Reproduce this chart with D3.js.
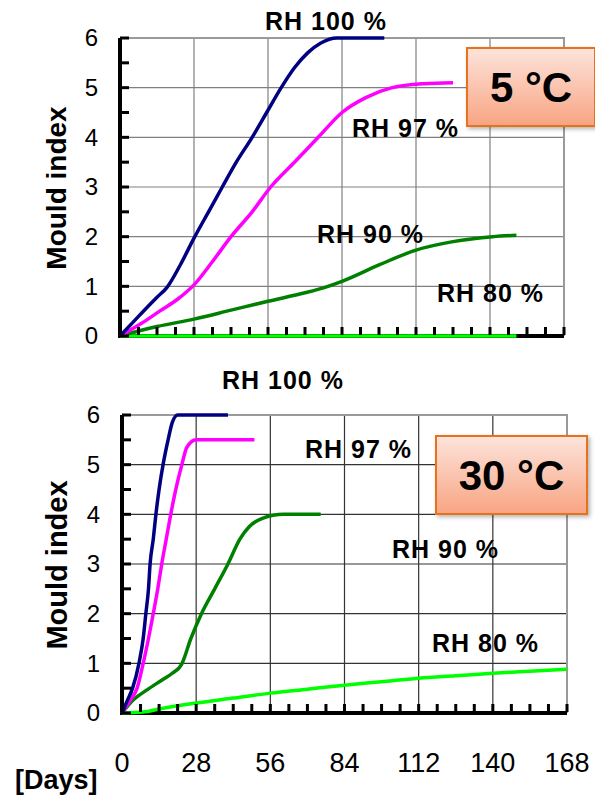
<!DOCTYPE html>
<html>
<head>
<meta charset="utf-8">
<script src="https://cdn.jsdelivr.net/npm/d3@7"></script>
<style>
  body { margin: 0; background: #fff; }
  svg { display: block; font-family: "Liberation Sans", Arial, sans-serif; }
</style>
</head>
<body>
<svg id="chart" width="595" height="799"></svg>
<script>
// x ticks in days, y ticks in mould index
const dayTicks = [0, 28, 56, 84, 112, 140, 168];
const indexTicks = [0, 1, 2, 3, 4, 5, 6];
const dayMinorTicks = [0, 7, 14, 21, 28, 35, 42, 49, 56, 63, 70, 77, 84, 91, 98, 105, 112, 119, 126, 133, 140, 147, 154, 161, 168];
const indexMinorTicks = [0, 0.5, 1, 1.5, 2, 2.5, 3, 3.5, 4, 4.5, 5, 5.5, 6];

// 5 °C curves, [day, mould index]
const rh100_5C = [[0,0],[5.5,0.31],[11.4,0.64],[14,0.78],[17.8,0.98],[23,1.45],[28,1.97],[33.5,2.5],[38.7,3],[44,3.5],[50,4],[55.5,4.5],[61,5],[66,5.4],[71,5.7],[76,5.9],[82,6],[100,6]];
const rh97_5C = [[0,0],[8,0.25],[15,0.5],[22,0.75],[28,1.03],[35,1.5],[42,2],[50,2.5],[57,3],[66,3.5],[75,4],[84,4.5],[93,4.8],[103,5],[115,5.08],[126,5.1]];
const rh90_5C = [[0,0],[7,0.1],[14,0.19],[28,0.34],[42,0.52],[56,0.7],[70,0.87],[77,0.97],[84,1.1],[98,1.43],[112,1.73],[126,1.9],[141,2],[150,2.03]];
const rh80_5C = [[0,0],[150,0]];

// 30 °C curves
const rh100_30C = [[0,0],[2,0.25],[4,0.5],[6.4,1],[8,1.5],[9,2],[10,2.5],[10.6,3],[11.8,3.5],[12.8,4],[14,4.5],[15.5,5],[17.4,5.5],[19,5.85],[21,6],[40,6]];
const rh97_30C = [[0,0],[3,0.25],[5.7,0.5],[8,1],[10,1.5],[11.8,2],[13.5,2.5],[15,3],[16.7,3.5],[18.4,4],[20.3,4.5],[22.6,5],[24.5,5.35],[28,5.5],[50,5.5]];
const rh90_30C = [[0,0],[4.2,0.26],[9.3,0.46],[15,0.66],[19,0.8],[22.5,0.98],[26,1.5],[30,2],[35,2.5],[40,3],[44.5,3.5],[48,3.75],[53,3.92],[61,4],[75,4]];
const rh80_30C = [[0,0],[8,0.02],[14,0.08],[28,0.2],[42,0.3],[56,0.4],[70,0.48],[84,0.56],[98,0.63],[112,0.7],[126,0.75],[140,0.8],[154,0.84],[168,0.88]];

const colors = { rh100: "#000080", rh97: "#ff00ff", rh90: "#008000", rh80: "#00ff00" };

const svg = d3.select("#chart");

// gradient for the temperature boxes
const defs = svg.append("defs");
const grad = defs.append("linearGradient").attr("id", "boxGrad")
  .attr("x1", 0).attr("y1", 0).attr("x2", 0).attr("y2", 1);
grad.append("stop").attr("offset", "0%").attr("stop-color", "#fde4dc");
grad.append("stop").attr("offset", "100%").attr("stop-color", "#f8a482");
const shadow = defs.append("filter").attr("id", "shadow")
  .attr("x", "-10%").attr("y", "-10%").attr("width", "130%").attr("height", "130%");
shadow.append("feDropShadow").attr("dx", 2).attr("dy", 2).attr("stdDeviation", 2)
  .attr("flood-color", "#000").attr("flood-opacity", 0.3);

function drawPanel(p) {
  const x = d3.scaleLinear().domain([0, 168]).range([p.left, p.right]);
  const y = d3.scaleLinear().domain([0, 6]).range([p.bottom, p.top]);
  const g = svg.append("g");

  // grid
  g.append("g").selectAll("line").data(dayTicks.slice(1, -1)).join("line")
    .attr("x1", d => x(d)).attr("x2", d => x(d))
    .attr("y1", p.top).attr("y2", p.bottom)
    .attr("stroke", p.gridColor).attr("stroke-width", 1.2);
  g.append("g").selectAll("line").data(indexTicks.slice(1, -1)).join("line")
    .attr("x1", p.left).attr("x2", p.right)
    .attr("y1", d => y(d)).attr("y2", d => y(d))
    .attr("stroke", p.gridColor).attr("stroke-width", 1.2);

  // grey top / right frame
  g.append("path")
    .attr("d", `M${p.left},${p.top}H${p.right}V${p.bottom}`)
    .attr("fill", "none").attr("stroke", "#9a9a9a").attr("stroke-width", 2);

  // black left / bottom axis lines
  g.append("path")
    .attr("d", `M${p.left},${p.top}V${p.bottom}H${p.right}`)
    .attr("fill", "none").attr("stroke", "#000").attr("stroke-width", 4);

  // curves
  const line = d3.line().x(d => x(d[0])).y(d => y(d[1])).curve(d3.curveMonotoneX);
  p.series.forEach(s => {
    g.append("path").datum(s.values)
      .attr("d", line).attr("fill", "none")
      .attr("stroke", colors[s.key]).attr("stroke-width", 3.5)
      .attr("stroke-linejoin", "round");
  });

  // inward ticks: every 0.5 on the left, every 7 days at the bottom
  g.append("g").selectAll("rect").data(indexMinorTicks).join("rect")
    .attr("x", p.left).attr("y", d => y(d) - 1.5)
    .attr("width", 9).attr("height", 3).attr("fill", "#000");
  g.append("g").selectAll("rect").data(dayMinorTicks).join("rect")
    .attr("x", d => x(d) - 1.5).attr("y", p.bottom - 9)
    .attr("width", 3).attr("height", 8).attr("fill", "#000");

  // y tick labels
  g.append("g").selectAll("text").data(indexTicks).join("text")
    .attr("x", p.left - 22).attr("y", d => y(d)).attr("dy", "0.35em")
    .attr("text-anchor", "end").attr("font-size", 24).attr("fill", "#000")
    .text(d => d);

  // y title
  g.append("text")
    .attr("transform", `translate(${p.titleX},${p.titleY}) rotate(-90)`)
    .attr("text-anchor", "middle").attr("dy", "0.35em")
    .attr("font-size", p.titleSize).attr("font-weight", "bold")
    .text("Mould index");

  // RH labels
  p.labels.forEach(l => {
    g.append("text").attr("x", l.x).attr("y", l.y)
      .attr("font-size", 25).attr("font-weight", "bold").attr("fill", "#000")
      .attr("letter-spacing", 1)
      .text(l.text);
  });

  // temperature box
  const b = p.box;
  g.append("rect").attr("x", b.x).attr("y", b.y).attr("width", b.w).attr("height", b.h)
    .attr("fill", "url(#boxGrad)").attr("stroke", "#e8711f").attr("stroke-width", 2)
    .attr("filter", "url(#shadow)");
  g.append("text").attr("x", b.x + b.w / 2).attr("y", b.ty)
    .attr("text-anchor", "middle").attr("font-size", 42).attr("font-weight", "bold")
    .text(b.text);

  return x;
}

drawPanel({
  left: 120, right: 564, top: 38, bottom: 336, gridColor: "#808080",
  titleX: 56, titleY: 188, titleSize: 28,
  series: [
    { key: "rh80", values: rh80_5C },
    { key: "rh90", values: rh90_5C },
    { key: "rh97", values: rh97_5C },
    { key: "rh100", values: rh100_5C }
  ],
  labels: [
    { text: "RH 100 %", x: 265, y: 30 },
    { text: "RH 97 %", x: 352, y: 137 },
    { text: "RH 90 %", x: 317, y: 243 },
    { text: "RH 80 %", x: 437, y: 302 }
  ],
  box: { x: 467, y: 48, w: 128, h: 78, ty: 102, text: "5 °C" }
});

const xBottom = drawPanel({
  left: 122, right: 567, top: 415, bottom: 713, gridColor: "#333",
  titleX: 57, titleY: 565, titleSize: 29,
  series: [
    { key: "rh80", values: rh80_30C },
    { key: "rh90", values: rh90_30C },
    { key: "rh97", values: rh97_30C },
    { key: "rh100", values: rh100_30C }
  ],
  labels: [
    { text: "RH 100 %", x: 222, y: 389 },
    { text: "RH 97 %", x: 305, y: 458 },
    { text: "RH 90 %", x: 392, y: 558 },
    { text: "RH 80 %", x: 432, y: 652 }
  ],
  box: { x: 436, y: 436, w: 151, h: 78, ty: 490, text: "30 °C" }
});

// day labels under the lower panel
svg.append("g").selectAll("text").data(dayTicks).join("text")
  .attr("x", d => xBottom(d)).attr("y", 772)
  .attr("text-anchor", "middle").attr("font-size", 27).attr("fill", "#000")
  .text(d => d);

svg.append("text").attr("x", 15).attr("y", 789)
  .attr("font-size", 27).attr("font-weight", "bold").text("[Days]");
</script>
</body>
</html>
